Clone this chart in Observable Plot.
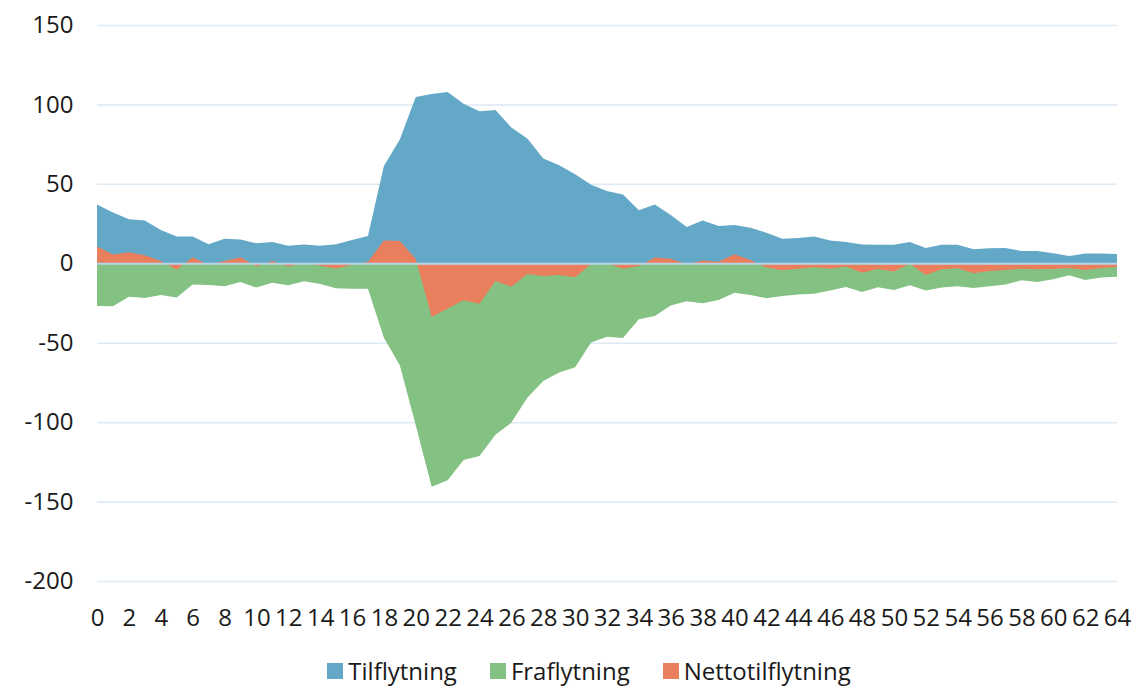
<!DOCTYPE html>
<html>
<head>
<meta charset="utf-8">
<script src="https://cdn.jsdelivr.net/npm/d3@7"></script>
<script src="https://cdn.jsdelivr.net/npm/@observablehq/plot@0.6"></script>
<style>
  html, body { margin: 0; padding: 0; background: #fff; }
  body { width: 1135px; height: 686px; overflow: hidden; font-family: "Open Sans", sans-serif; }
  #chart svg { display: block; }
  #legend { display: flex; justify-content: center; align-items: center; padding-left: 43px; height: 52px; font-size: 24px; line-height: 1; color: #1a1a1a; }
  .item { display: flex; align-items: center; margin: 0 16.5px; }
  .sw { width: 16px; height: 16px; margin-right: 5px; }
</style>
</head>
<body>
<div id="chart"></div>
<div id="legend"></div>
<script>
const ages = d3.range(0, 65);
const tilflytning = [37,32,27.7,27,21,16.8,16.8,12,15.5,15,12.6,13.4,11,11.8,11,12,14.7,17.2,
  61.3,78,104.7,106.6,107.9,100.5,95.7,96.5,85.4,78.5,65.9,61.7,56,49.5,45.5,43.3,33.4,37,
  30.4,22.9,27,23.5,24.1,22.4,19.3,15.5,15.9,16.8,14.3,13.4,11.8,11.7,
  11.7,13.4,9.7,11.7,11.7,8.8,9.4,9.7,7.8,7.8,6.3,4.6,6.1,6.1,5.9];
const fraflytning = [-26.9,-27,-21,-21.8,-20,-21.6,-13.4,-13.6,-14.5,-11.8,-15.3,-12.2,-13.9,-11.3,-13,-15.7,-16,-16,
  -46.8,-64.2,-102,-140.6,-136.6,-123.8,-121.3,-107.9,-100.3,-84.6,-74.1,-68.8,-65.5,-49.9,-46.2,-47,-35.3,-33.2,
  -26.5,-23.9,-25.2,-23.1,-18.5,-19.9,-22,-20.6,-19.7,-19.1,-17.2,-14.9,-18,-15.1,
  -16.8,-13.9,-17.2,-15.3,-14.5,-15.5,-14.5,-13.4,-10.7,-11.8,-10.1,-7.6,-10.5,-9,-8.4];
const nettotilflytning = [10.5,5.5,7,5,1.5,-4,3.8,-1,1.5,3.8,-2,1.5,-2,0,-1.5,-3.3,-1,1,
  14.3,14,2.7,-33.8,-28.5,-23.3,-25.4,-11.1,-14.7,-6.7,-8,-7.3,-8.8,-0.5,0,-3.4,-1.7,3.6,
  2.9,-0.6,1.7,1,5.7,2.1,-2.7,-4.4,-3.4,-2.5,-3.4,-2.1,-5.9,-3.6,
  -5.2,-0.4,-7.3,-3.8,-3.2,-6.3,-4.8,-4.2,-3.4,-3.8,-3.6,-2.9,-4.2,-2.9,-2.3];
const seriesNames = ["Tilflytning", "Fraflytning", "Nettotilflytning"];
const seriesColors = ["#64a8c8", "#84c283", "#e97f5d"];
const xTicks = d3.range(0, 65, 2);
const yTicks = [-200, -150, -100, -50, 0, 50, 100, 150];

const rows = s => ages.map((a, i) => ({age: a, value: s[i]}));

const chart = Plot.plot({
  width: 1135,
  height: 645,
  marginTop: 25,
  marginBottom: 64,
  marginLeft: 97,
  marginRight: 18,
  style: {fontFamily: "Open Sans, sans-serif", fontSize: "24px", color: "#1a1a1a", background: "#fff"},
  x: {domain: [0, 64], ticks: xTicks, tickSize: 0, tickPadding: 27, label: null, tickFormat: d => String(d)},
  y: {domain: [-200, 150], ticks: yTicks, tickSize: 0, tickPadding: 24, label: null, tickFormat: d => String(d)},
  marks: [
    Plot.ruleY(yTicks, {stroke: "#dde9f3", strokeWidth: 1.5}),
    Plot.areaY(rows(tilflytning), {x: "age", y1: 0, y2: "value", fill: seriesColors[0]}),
    Plot.areaY(rows(fraflytning), {x: "age", y1: 0, y2: "value", fill: seriesColors[1]}),
    Plot.areaY(rows(nettotilflytning), {x: "age", y1: 0, y2: "value", fill: seriesColors[2]}),
    Plot.ruleY([0], {stroke: "#b8d6e8", strokeWidth: 2})
  ]
});
document.getElementById("chart").appendChild(chart);

const legend = document.getElementById("legend");
seriesNames.forEach((n, i) => {
  const it = document.createElement("div");
  it.className = "item";
  const sw = document.createElement("span");
  sw.className = "sw";
  sw.style.background = seriesColors[i];
  const t = document.createElement("span");
  t.textContent = n;
  it.appendChild(sw); it.appendChild(t);
  legend.appendChild(it);
});
</script>
</body>
</html>
